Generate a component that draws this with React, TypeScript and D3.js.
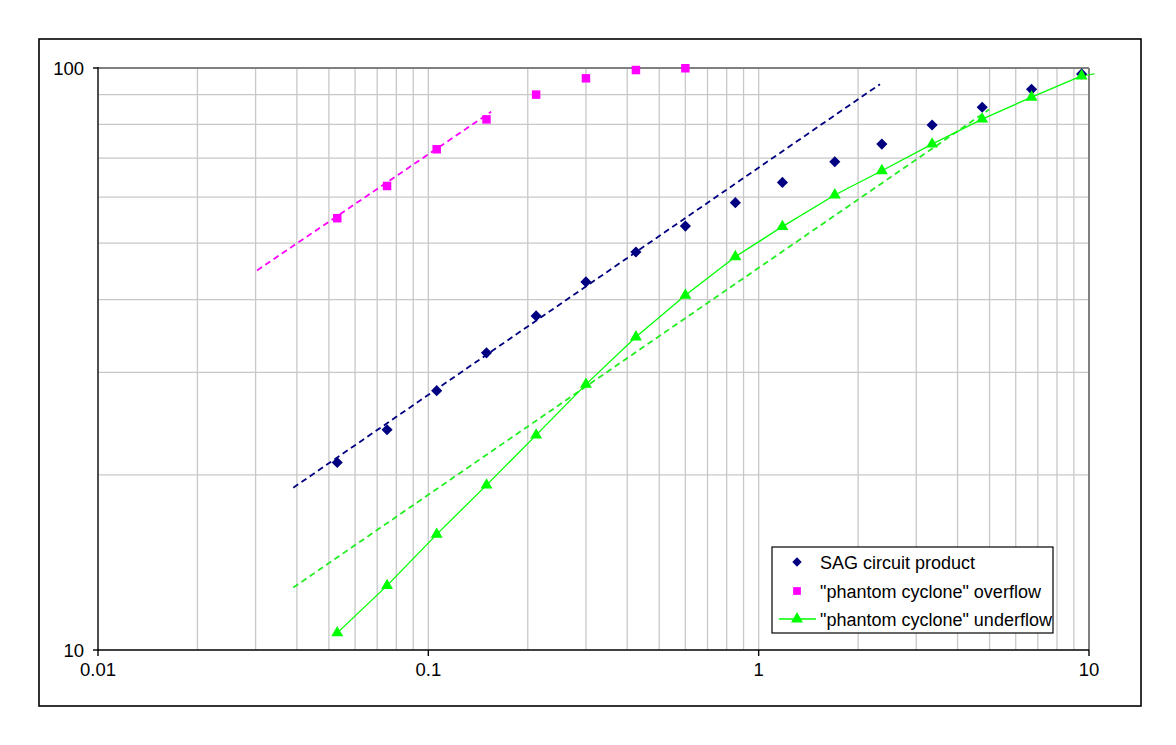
import React, { useEffect, useRef } from 'react';
import * as d3 from 'd3';

// sieve sizes (mm) and cumulative % passing
const sizes = [0.053, 0.075, 0.106, 0.15, 0.212, 0.3, 0.425, 0.6, 0.85, 1.18, 1.7, 2.36, 3.35, 4.75, 6.7, 9.5];
const sagProduct = [21.0, 23.9, 27.9, 32.4, 37.5, 42.9, 48.3, 53.5, 58.7, 63.6, 69.0, 74.0, 79.8, 85.6, 91.9, 97.7];
const overflow = [55.2, 62.7, 72.5, 81.6, 90.0, 96.0, 99.2, 99.9];
const underflow = [10.7, 12.9, 15.8, 19.2, 23.4, 28.6, 34.5, 40.7, 47.4, 53.4, 60.5, 66.6, 74.0, 81.7, 89.1, 96.9];

// power trend lines, [size, % passing] at each end
const sagTrend = [[0.039, 19.0], [2.33, 93.8]];
const overflowTrend = [[0.0303, 44.9], [0.155, 84.1]];
const underflowTrend = [[0.039, 12.8], [4.99, 84.9]];
const underflowTail = [[9.5, 96.9], [10.4, 97.7]];

const xTicks = [0.01, 0.1, 1, 10];
const xTickLabels = ['0.01', '0.1', '1', '10'];
const yTicks = [10, 100];
const yTickLabels = ['10', '100'];

const legendNames = ['SAG circuit product', '"phantom cyclone" overflow', '"phantom cyclone" underflow'];

const FONT = '"Liberation Sans", Arial, sans-serif';

function Chart() {
  const ref = useRef<SVGSVGElement>(null);

  useEffect(() => {
    const svg = d3.select(ref.current);
    svg.selectAll('*').remove();

    const left = 98, right = 1089, top = 68, bottom = 650;
    const x = d3.scaleLog().domain([0.01, 10]).range([left, right]);
    const y = d3.scaleLog().domain([10, 100]).range([bottom, top]);

    // outer chart border
    svg.append('rect')
      .attr('x', 39).attr('y', 39).attr('width', 1102).attr('height', 667)
      .attr('fill', 'white').attr('stroke', 'black').attr('stroke-width', 1.6);

    // grid
    const xGrid: number[] = [];
    [0.01, 0.1, 1].forEach(d => { for (let k = 1; k <= 9; k++) xGrid.push(d * k); });
    const yGrid: number[] = [];
    for (let k = 1; k <= 9; k++) yGrid.push(10 * k);

    const g = svg.append('g');
    g.selectAll('.xg').data(xGrid.slice(1)).enter().append('line')
      .attr('x1', d => x(d)).attr('x2', d => x(d)).attr('y1', top).attr('y2', bottom)
      .attr('stroke', '#c8c8c8').attr('stroke-width', 1.3);
    g.selectAll('.yg').data(yGrid.slice(1)).enter().append('line')
      .attr('x1', left).attr('x2', right).attr('y1', d => y(d)).attr('y2', d => y(d))
      .attr('stroke', '#c8c8c8').attr('stroke-width', 1.3);

    // plot area border (top/right grey), axes black
    svg.append('line').attr('x1', left).attr('x2', right).attr('y1', top).attr('y2', top)
      .attr('stroke', '#808080').attr('stroke-width', 2);
    svg.append('line').attr('x1', right).attr('x2', right).attr('y1', top).attr('y2', bottom)
      .attr('stroke', '#808080').attr('stroke-width', 2);
    svg.append('line').attr('x1', left).attr('x2', left).attr('y1', top - 1).attr('y2', bottom + 1)
      .attr('stroke', '#222').attr('stroke-width', 1.6);
    svg.append('line').attr('x1', left).attr('x2', right).attr('y1', bottom).attr('y2', bottom)
      .attr('stroke', '#000').attr('stroke-width', 1.6);

    // ticks + labels
    svg.selectAll('.xt').data(xTicks).enter().append('line')
      .attr('x1', d => x(d)).attr('x2', d => x(d)).attr('y1', bottom).attr('y2', bottom + 6)
      .attr('stroke', '#000').attr('stroke-width', 1.4);
    svg.selectAll('.xl').data(xTicks).enter().append('text')
      .attr('x', d => x(d)).attr('y', bottom + 26)
      .attr('text-anchor', 'middle').attr('font-family', FONT).attr('font-size', 18.5)
      .text((d, i) => xTickLabels[i]);
    svg.selectAll('.yt').data(yTicks).enter().append('line')
      .attr('x1', left - 5).attr('x2', left).attr('y1', d => y(d)).attr('y2', d => y(d))
      .attr('stroke', '#000').attr('stroke-width', 1.4);
    svg.selectAll('.yl').data(yTicks).enter().append('text')
      .attr('x', left - 14).attr('y', d => y(d) + 6.5)
      .attr('text-anchor', 'end').attr('font-family', FONT).attr('font-size', 18.5)
      .text((d, i) => yTickLabels[i]);

    // trend lines
    const line = d3.line<number[]>().x(d => x(d[0])).y(d => y(d[1]));
    const trends: [number[][], string][] = [
      [sagTrend, '#000080'],
      [overflowTrend, '#ff00ff'],
      [underflowTrend, '#22ee22'],
    ];
    trends.forEach(([t, c]) => {
      svg.append('path').attr('d', line(t) as string).attr('fill', 'none')
        .attr('stroke', c).attr('stroke-width', 1.8).attr('stroke-dasharray', '6,4');
    });

    // underflow connecting line
    const uPts = sizes.map((s, i) => [s, underflow[i]]);
    svg.append('path').attr('d', line(uPts) as string).attr('fill', 'none')
      .attr('stroke', '#00ff00').attr('stroke-width', 1.3);
    svg.append('path').attr('d', line(underflowTail) as string).attr('fill', 'none')
      .attr('stroke', '#22ee22').attr('stroke-width', 1.3);

    // markers
    const sq = d3.symbol().type(d3.symbolSquare);
    svg.selectAll('.sag').data(sizes).enter().append('path')
      .attr('d', sq.size(62)() as string)
      .attr('transform', (d, i) => `translate(${x(d)},${y(sagProduct[i])}) rotate(45)`)
      .attr('fill', '#000080');
    svg.selectAll('.ovf').data(overflow).enter().append('path')
      .attr('d', sq.size(72)() as string)
      .attr('transform', (d, i) => `translate(${x(sizes[i])},${y(d)})`)
      .attr('fill', '#ff00ff');
    const tri = d3.symbol().type(d3.symbolTriangle).size(62);
    svg.selectAll('.unf').data(underflow).enter().append('path')
      .attr('d', tri() as string)
      .attr('transform', (d, i) => `translate(${x(sizes[i])},${y(d)})`)
      .attr('fill', '#00ff00');

    // legend
    const lg = svg.append('g').attr('transform', 'translate(772,547)');
    lg.append('rect').attr('width', 281).attr('height', 86)
      .attr('fill', 'white').attr('stroke', '#000').attr('stroke-width', 1.2);
    const rowY = [15, 44, 72];
    lg.selectAll('text').data(legendNames).enter().append('text')
      .attr('x', 48).attr('y', (d, i) => rowY[i] + 6.5)
      .attr('font-family', FONT).attr('font-size', 18).text(d => d);
    lg.append('path').attr('d', sq.size(44)() as string)
      .attr('transform', `translate(25,${rowY[0]}) rotate(45)`).attr('fill', '#000080');
    lg.append('path').attr('d', sq.size(60)() as string)
      .attr('transform', `translate(25,${rowY[1]})`).attr('fill', '#ff00ff');
    lg.append('line').attr('x1', 7).attr('x2', 44).attr('y1', rowY[2]).attr('y2', rowY[2])
      .attr('stroke', '#00ff00').attr('stroke-width', 1.3);
    lg.append('path').attr('d', tri() as string)
      .attr('transform', `translate(25,${rowY[2]})`).attr('fill', '#00ff00');
  }, []);

  return <svg ref={ref} width={1176} height={745} style={{ display: 'block' }} />;
}

export default function App() {
  return (
    <div style={{ position: 'absolute', left: 0, top: 0, background: 'white' }}>
      <Chart />
    </div>
  );
}
